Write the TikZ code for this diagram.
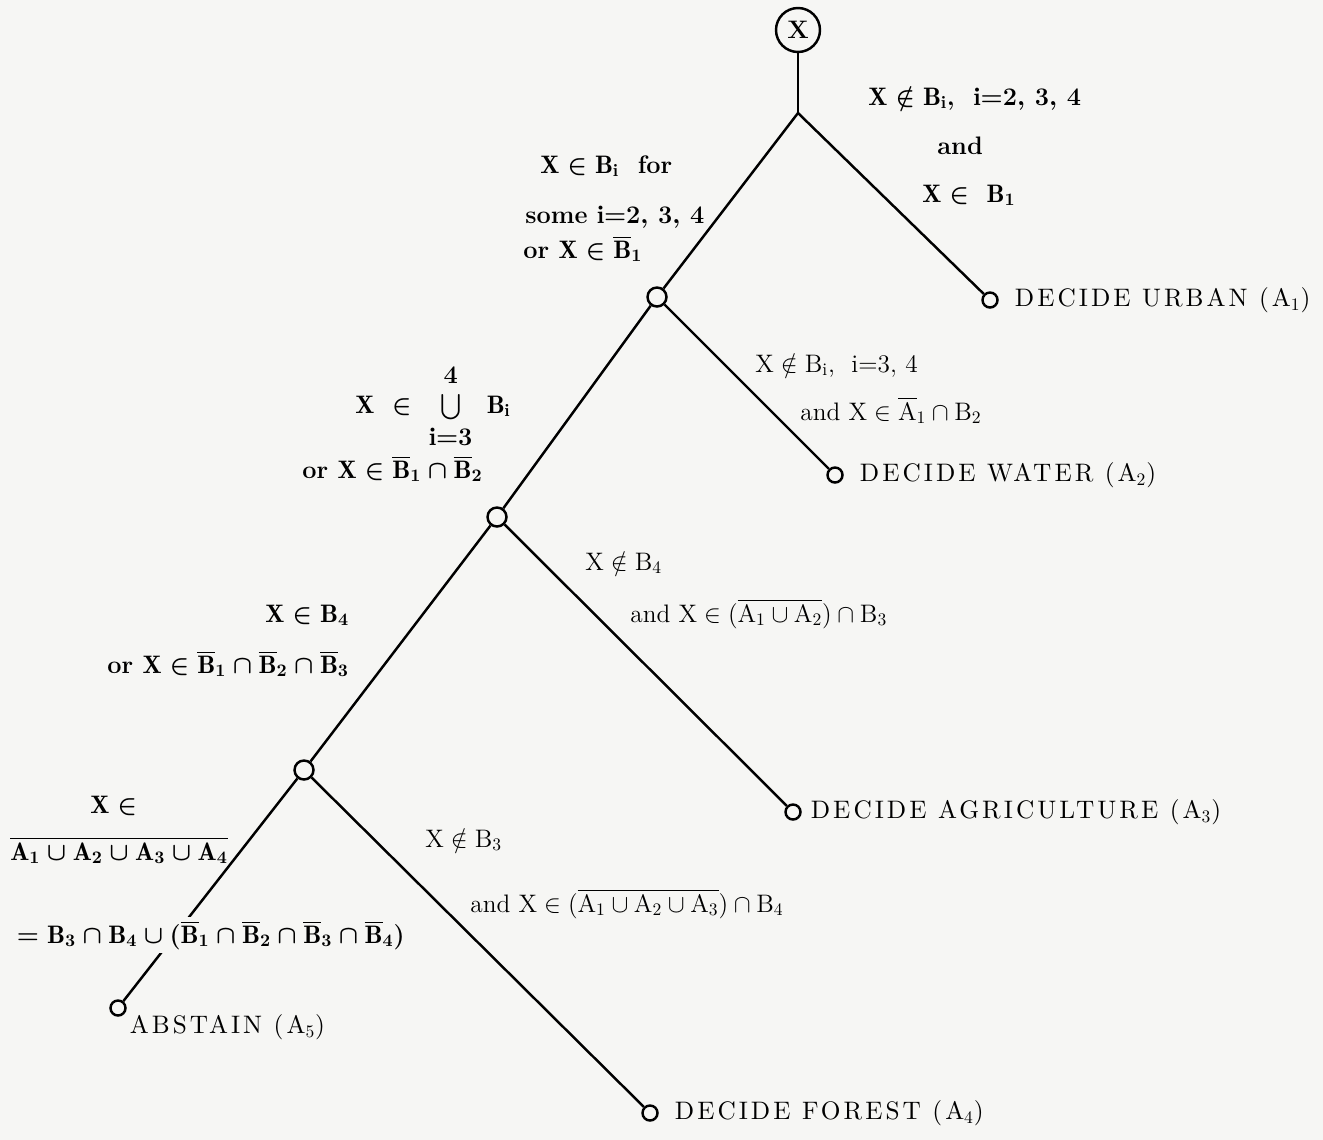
\documentclass[tikz,border=0pt]{standalone}
\usepackage{amsmath}
\usepackage{fontspec}
\usetikzlibrary{positioning}
\newfontfamily\leaffont{lmroman10-regular.otf}[LetterSpace=12]
\definecolor{paper}{RGB}{246,246,244}
% upright letters in the set formulas, as printed
\mathcode`X="7058 \mathcode`A="7041 \mathcode`B="7042 \mathcode`i="7069

\begin{document}
\begin{tikzpicture}[
    x=0.02cm, y=-0.02cm,
    font=\Large,
    branch/.style={line width=1.4pt},
    knot/.style={draw, circle, line width=1.4pt, minimum size=0.38cm, inner sep=0pt},
    tip/.style={draw, circle, line width=1.4pt, minimum size=0.30cm, inner sep=0pt},
    cond/.style={anchor=base west, inner sep=0pt},
    boldcond/.style={cond, font=\Large\bfseries\boldmath},
    outcome/.style={font=\Large\leaffont, inner sep=0pt}
]
    \fill[paper] (0,0) rectangle (1323,1140);
    \useasboundingbox (0,0) rectangle (1323,1140);

    % tree
    \node[draw, circle, line width=1.4pt, minimum size=0.88cm, inner sep=0pt,
        font=\Large\bfseries] (root) at (798,30) {X};
    \coordinate (fork) at (798,113);
    \node[knot] (n1) at (657,297) {};
    \node[knot] (n2) at (497,517) {};
    \node[knot] (n3) at (304,770) {};
    \node[tip] (urban) at (990,300) {};
    \node[tip] (water) at (835,475) {};
    \node[tip] (agri) at (793,812) {};
    \node[tip] (forest) at (650,1113) {};
    \node[tip] (abstain) at (118,1008) {};

    \draw[branch] (root) -- (fork);
    \draw[branch] (fork) -- (n1);
    \draw[branch] (fork) -- (urban);
    \draw[branch] (n1) -- (n2);
    \draw[branch] (n1) -- (water);
    \draw[branch] (n2) -- (n3);
    \draw[branch] (n2) -- (agri);
    \draw[branch] (n3) -- (abstain);
    \draw[branch] (n3) -- (forest);

    % outcomes
    \node[outcome, right=9pt of urban] (urbantxt) {DECIDE URBAN (A$_1$)};
    \node[outcome, right=9pt of water] (watertxt) {DECIDE WATER (A$_2$)};
    \node[outcome, right=5pt of agri] (agritxt) {DECIDE AGRICULTURE (A$_3$)};
    \node[outcome, right=9pt of forest] (foresttxt) {DECIDE FOREST (A$_4$)};
    \node[outcome, anchor=north west] (abstaintxt)
        at ([xshift=3pt]abstain.south east) {ABSTAIN (A$_5$)};

    % conditions, urban branch
    \node[boldcond] (c1a) at (868,105) {$X \notin B_i$, \ $i{=}2,\,3,\,4$};
    \node[boldcond] (c1b) at (937,154) {and};
    \node[boldcond] (c1c) at (922,202) {$X \in \ B_1$};
    \node[boldcond] (c2a) at (540,173) {$X \in B_i$ \ for};
    \node[boldcond] (c2b) at (525,223) {some $i{=}2,\,3,\,4$};
    \node[boldcond] (c2c) at (523,258) {or $X \in \overline{B}_1$};

    % water branch
    \node[cond] (c3a) at (755,372) {$X \notin B_i$, \ $i{=}3,\,4$};
    \node[cond] (c3b) at (800,420) {and $X \in \overline{A}_1 \cap B_2$};
    \node[boldcond] (c4a) at (355,413)
        {$X \ \in \ \bigcup\limits^{\raisebox{3pt}{$4$}}_{\raisebox{-6pt}{$i{=}3$}}
        \ B_i$};
    \node[boldcond] (c4b) at (302,478) {or $X \in \overline{B}_1 \cap \overline{B}_2$};

    % agriculture branch
    \node[cond] (c5a) at (585,570) {$X \notin B_4$};
    \node[cond] (c5b) at (630,622) {and $X \in (\overline{A_1 \cup A_2}) \cap B_3$};
    \node[boldcond] (c6a) at (265,622) {$X \in B_4$};
    \node[boldcond] (c6b) at (107,673)
        {or $X \in \overline{B}_1 \cap \overline{B}_2 \cap \overline{B}_3$};

    % forest and abstain branches
    \node[cond] (c8a) at (425,847) {$X \notin B_3$};
    \node[cond] (c8b) at (470,912)
        {and $X \in (\overline{A_1 \cup A_2 \cup A_3}) \cap B_4$};
    \node[boldcond] (c7a) at (90,813) {$X \in$};
    \node[boldcond] (c7b) at (10,860) {$\overline{A_1 \cup A_2 \cup A_3 \cup A_4}$};
    \node[boldcond, fill=paper, inner sep=2pt] (c7c) at (13,943)
        {$= B_3 \cap B_4 \cup (\overline{B}_1 \cap \overline{B}_2
        \cap \overline{B}_3 \cap \overline{B}_4)$};
\end{tikzpicture}
\end{document}
